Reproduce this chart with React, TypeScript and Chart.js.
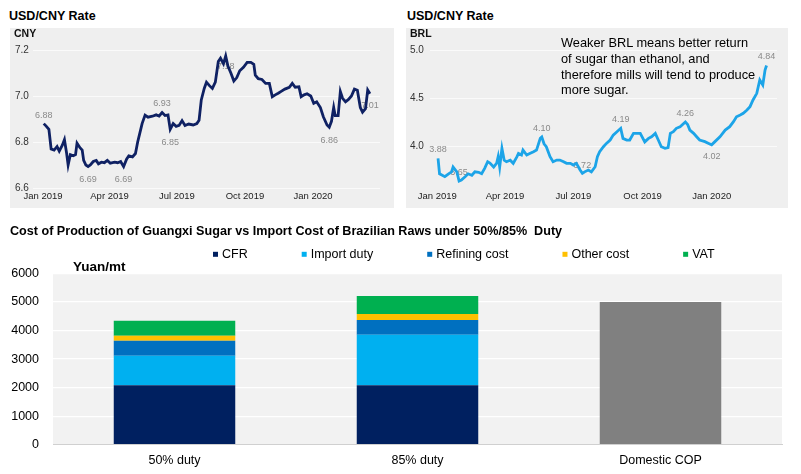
import React, { useEffect, useRef } from "react";
import { Chart, registerables } from "chart.js";

Chart.register(...registerables);

const FONT = '"Liberation Sans", Arial, Helvetica, sans-serif';

// ---------- Top panels: exchange rates ----------
const quarterTickDates = ["2019-01-01", "2019-04-01", "2019-07-01", "2019-10-01", "2020-01-01"];
const quarterTickLabels = ["Jan 2019", "Apr 2019", "Jul 2019", "Oct 2019", "Jan 2020"];

const cnyDates = [
  "2019-01-02", "2019-01-05", "2019-01-09", "2019-01-12", "2019-01-16", "2019-01-20", "2019-01-23", "2019-01-27",
  "2019-01-30", "2019-02-02", "2019-02-04", "2019-02-07", "2019-02-11", "2019-02-14", "2019-02-16", "2019-02-20",
  "2019-02-23", "2019-02-25", "2019-02-28", "2019-03-03", "2019-03-06", "2019-03-10", "2019-03-14", "2019-03-17",
  "2019-03-21", "2019-03-25", "2019-03-29", "2019-04-02", "2019-04-08", "2019-04-12", "2019-04-16", "2019-04-20",
  "2019-04-24", "2019-04-27", "2019-05-02", "2019-05-06", "2019-05-09", "2019-05-12", "2019-05-15", "2019-05-19",
  "2019-05-23", "2019-05-29", "2019-06-03", "2019-06-07", "2019-06-11", "2019-06-15", "2019-06-19", "2019-06-22",
  "2019-06-26", "2019-06-30", "2019-07-04", "2019-07-08", "2019-07-12", "2019-07-17", "2019-07-23", "2019-07-28",
  "2019-07-31", "2019-08-03", "2019-08-07", "2019-08-10", "2019-08-14", "2019-08-18", "2019-08-22", "2019-08-26",
  "2019-08-29", "2019-09-02", "2019-09-05", "2019-09-08", "2019-09-12", "2019-09-16", "2019-09-20", "2019-09-24",
  "2019-09-29", "2019-10-04", "2019-10-09", "2019-10-13", "2019-10-15", "2019-10-19", "2019-10-24", "2019-10-29",
  "2019-11-03", "2019-11-07", "2019-11-11", "2019-11-15", "2019-11-19", "2019-11-24", "2019-11-30", "2019-12-04",
  "2019-12-08", "2019-12-13", "2019-12-16", "2019-12-20", "2019-12-24", "2019-12-29", "2020-01-02", "2020-01-06",
  "2020-01-11", "2020-01-15", "2020-01-20", "2020-01-23", "2020-01-26", "2020-01-29", "2020-01-31", "2020-02-04",
  "2020-02-07", "2020-02-10", "2020-02-14", "2020-02-18", "2020-02-22", "2020-02-26", "2020-03-01", "2020-03-05",
  "2020-03-08", "2020-03-12", "2020-03-15", "2020-03-18",
];
const cnyValues = [
  6.88, 6.87, 6.855, 6.77, 6.765, 6.78, 6.76, 6.785,
  6.81, 6.75, 6.70, 6.745, 6.74, 6.745, 6.795, 6.775,
  6.765, 6.72, 6.70, 6.693, 6.70, 6.715, 6.72, 6.705,
  6.712, 6.71, 6.72, 6.708, 6.712, 6.71, 6.715, 6.693,
  6.725, 6.74, 6.735, 6.75, 6.80, 6.84, 6.88, 6.917,
  6.908, 6.912, 6.918, 6.913, 6.928, 6.915, 6.918, 6.855,
  6.88, 6.868, 6.872, 6.893, 6.872, 6.878, 6.874, 6.88,
  6.895, 6.983, 7.033, 7.06, 7.045, 7.033, 7.06, 7.15,
  7.164, 7.14, 7.174, 7.13, 7.10, 7.065, 7.08, 7.11,
  7.125, 7.146, 7.146, 7.138, 7.091, 7.075, 7.072, 7.055,
  7.055, 6.997, 7.005, 7.012, 7.02, 7.03, 7.038, 7.055,
  7.038, 7.04, 6.997, 7.005, 7.01, 7.0, 6.968, 6.975,
  6.95, 6.91, 6.874, 6.864, 6.89, 6.95, 6.915, 6.915,
  7.019, 6.99, 6.975, 6.985, 7.0, 7.03, 7.025, 6.95,
  6.93, 6.945, 7.026, 7.01,
];
const cnyNotes = [
  { date: "2019-01-02", text: "6.88", pos: "above" },
  { date: "2019-03-03", text: "6.69", pos: "below" },
  { date: "2019-04-20", text: "6.69", pos: "below" },
  { date: "2019-06-11", text: "6.93", pos: "above" },
  { date: "2019-06-22", text: "6.85", pos: "below" },
  { date: "2019-09-05", text: "7.18", pos: "below" },
  { date: "2020-01-23", text: "6.86", pos: "below" },
  { date: "2020-03-18", text: "7.01", pos: "below" },
];
const cnyYTicks = [6.6, 6.8, 7.0, 7.2];

const brlDates = [
  "2019-01-02", "2019-01-04", "2019-01-07", "2019-01-11", "2019-01-16", "2019-01-20", "2019-01-22", "2019-01-27",
  "2019-01-30", "2019-02-02", "2019-02-07", "2019-02-11", "2019-02-16", "2019-02-20", "2019-02-25", "2019-03-01",
  "2019-03-05", "2019-03-09", "2019-03-12", "2019-03-17", "2019-03-21", "2019-03-23", "2019-03-25", "2019-03-28",
  "2019-03-31", "2019-04-03", "2019-04-08", "2019-04-12", "2019-04-17", "2019-04-19", "2019-04-23", "2019-04-25",
  "2019-04-30", "2019-05-04", "2019-05-09", "2019-05-13", "2019-05-18", "2019-05-20", "2019-05-23", "2019-05-26",
  "2019-05-31", "2019-06-04", "2019-06-09", "2019-06-13", "2019-06-18", "2019-06-22", "2019-06-27", "2019-07-01",
  "2019-07-05", "2019-07-10", "2019-07-13", "2019-07-16", "2019-07-21", "2019-07-25", "2019-07-30", "2019-08-02",
  "2019-08-05", "2019-08-10", "2019-08-14", "2019-08-19", "2019-08-23", "2019-08-28", "2019-09-02", "2019-09-05",
  "2019-09-10", "2019-09-14", "2019-09-19", "2019-09-23", "2019-09-28", "2019-10-04", "2019-10-09", "2019-10-13",
  "2019-10-18", "2019-10-22", "2019-10-26", "2019-10-31", "2019-11-04", "2019-11-07", "2019-11-11", "2019-11-15",
  "2019-11-20", "2019-11-27", "2019-11-30", "2019-12-03", "2019-12-08", "2019-12-12", "2019-12-16", "2019-12-23",
  "2019-12-28", "2020-01-01", "2020-01-05", "2020-01-12", "2020-01-19", "2020-01-25", "2020-01-30", "2020-02-03",
  "2020-02-08", "2020-02-12", "2020-02-17", "2020-02-21", "2020-02-25", "2020-03-01", "2020-03-05", "2020-03-09",
  "2020-03-12", "2020-03-14",
];
const brlValues = [
  3.88, 3.72, 3.707, 3.69, 3.72, 3.74, 3.79, 3.74,
  3.645, 3.655, 3.69, 3.72, 3.705, 3.74, 3.735, 3.72,
  3.776, 3.845, 3.83, 3.79, 3.83, 3.897, 3.79, 3.983,
  3.86, 3.845, 3.86, 3.828, 3.897, 3.93, 3.914, 3.965,
  3.914, 3.93, 3.948, 3.965, 4.086, 4.10, 4.03, 4.0,
  3.897, 3.845, 3.862, 3.862, 3.845, 3.828, 3.828, 3.81,
  3.828, 3.759, 3.724, 3.74, 3.759, 3.74, 3.793, 3.897,
  3.948, 4.0, 4.034, 4.069, 4.12, 4.155, 4.19, 4.086,
  4.069, 4.069, 4.138, 4.138, 4.138, 4.05, 4.086, 4.103,
  4.138, 4.069, 4.0, 3.983, 3.99, 4.138, 4.155, 4.19,
  4.207, 4.255, 4.23, 4.172, 4.138, 4.103, 4.069, 4.052,
  4.034, 4.02, 4.05, 4.103, 4.172, 4.207, 4.259, 4.31,
  4.328, 4.345, 4.379, 4.414, 4.483, 4.552, 4.69, 4.638,
  4.793, 4.84,
];
const brlNotes = [
  { date: "2019-01-02", text: "3.88", pos: "above" },
  { date: "2019-01-30", text: "3.65", pos: "above" },
  { date: "2019-05-20", text: "4.10", pos: "above" },
  { date: "2019-07-13", text: "3.72", pos: "above" },
  { date: "2019-09-02", text: "4.19", pos: "above" },
  { date: "2019-11-27", text: "4.26", pos: "above" },
  { date: "2020-01-01", text: "4.02", pos: "below" },
  { date: "2020-03-14", text: "4.84", pos: "above" },
];
const brlYTicks = [4.0, 4.5, 5.0];

const brlCommentLines = [
  "Weaker BRL means better return",
  "of sugar than ethanol, and",
  "therefore mills will tend to produce",
  "more sugar.",
];

// ---------- Bottom panel: cost stack ----------
const barCategories = ["50% duty", "85% duty", "Domestic COP"];
const cfrValues = [2080, 2080, null];
const importDutyValues = [1040, 1770, null];
const refiningValues = [520, 520, null];
const otherCostValues = [180, 205, null];
const vatValues = [520, 630, null];
const domesticCopValues = [null, null, 5000];
const legendSeries = ["CFR", "Import duty", "Refining cost", "Other cost", "VAT"];

const BASE = Date.parse("2019-01-01T00:00:00Z");
const dayOf = (s: string) => (Date.parse(s + "T00:00:00Z") - BASE) / 86400000;

function notesPlugin(notes: { date: string; text: string; pos: string }[]) {
  return {
    id: "pointNotes",
    beforeDatasetsDraw(chart: any) {
      const { ctx, scales } = chart;
      ctx.save();
      ctx.font = `9px ${FONT}`;
      ctx.fillStyle = "#8a8a8a";
      ctx.textAlign = "center";
      ctx.textBaseline = "middle";
      notes.forEach((n) => {
        const px = scales.x.getPixelForValue(dayOf(n.date));
        const py = scales.y.getPixelForValue(parseFloat(n.text)) + (n.pos === "above" ? -8.5 : 12);
        ctx.fillText(n.text, px, py);
      });
      ctx.restore();
    },
  };
}

function makeLineChart(
  canvas: HTMLCanvasElement,
  dates: string[],
  values: number[],
  notes: { date: string; text: string; pos: string }[],
  cfg: { color: string; yMin: number; yMax: number; yTicks: number[]; xMin: number; xMax: number; yWidth: number; padLeft: number; padRight: number }
) {
  return new Chart(canvas, {
    type: "line",
    data: {
      datasets: [
        {
          data: dates.map((d, i) => ({ x: dayOf(d), y: values[i] })),
          borderColor: cfg.color,
          borderWidth: 2.8,
          pointRadius: 0,
          tension: 0,
          fill: false,
        },
      ],
    },
    options: {
      responsive: false,
      animation: false,
      events: [],
      layout: { padding: { left: cfg.padLeft, right: cfg.padRight, top: 22, bottom: 0 } },
      plugins: { legend: { display: false }, tooltip: { enabled: false } },
      scales: {
        x: {
          type: "linear",
          min: cfg.xMin,
          max: cfg.xMax,
          grid: { display: false, drawTicks: false },
          border: { display: false },
          afterBuildTicks: (s: any) => {
            s.ticks = quarterTickDates.map((d) => ({ value: dayOf(d) }));
          },
          afterFit: (s: any) => {
            s.height = 20;
          },
          ticks: {
            autoSkip: false,
            maxRotation: 0,
            padding: 3,
            color: "#222",
            font: { family: FONT, size: 9.5 },
            callback: (_v: any, i: number) => quarterTickLabels[i],
          },
        },
        y: {
          min: cfg.yMin,
          max: cfg.yMax,
          grid: { color: "#fafafa", lineWidth: 1, drawTicks: false },
          border: { display: false },
          afterBuildTicks: (s: any) => {
            s.ticks = cfg.yTicks.map((v) => ({ value: v }));
          },
          afterFit: (s: any) => {
            s.width = cfg.yWidth;
          },
          ticks: {
            crossAlign: "far",
            color: "#333",
            font: { family: FONT, size: 10 },
            callback: (v: any) => Number(v).toFixed(1),
          },
        },
      },
    },
    plugins: [notesPlugin(notes)],
  } as any);
}

const plotBgPlugin = {
  id: "plotBg",
  beforeDraw(chart: any) {
    const { ctx, chartArea } = chart;
    ctx.save();
    ctx.fillStyle = "#f2f2f2";
    ctx.fillRect(chartArea.left, chartArea.top, chartArea.right - chartArea.left, chartArea.bottom - chartArea.top);
    ctx.restore();
  },
};

const barLegendPlugin = {
  id: "barLegend",
  afterDraw(chart: any) {
    const { ctx } = chart;
    ctx.save();
    ctx.font = `12.5px ${FONT}`;
    ctx.textBaseline = "middle";
    ctx.textAlign = "left";
    let x = 213;
    const y = 39.3;
    chart.data.datasets.forEach((ds: any) => {
      if (!legendSeries.includes(ds.label)) return;
      ctx.fillStyle = ds.backgroundColor;
      ctx.fillRect(x, y - 2.5, 5, 5);
      ctx.fillStyle = "#000";
      ctx.fillText(ds.label, x + 9, y);
      x += 9 + ctx.measureText(ds.label).width + 54;
    });
    ctx.restore();
  },
};

const unitPlugin = {
  id: "unitLabel",
  afterDraw(chart: any) {
    const { ctx, chartArea } = chart;
    ctx.save();
    ctx.font = `bold 13.5px ${FONT}`;
    ctx.fillStyle = "#000";
    ctx.textBaseline = "middle";
    ctx.textAlign = "left";
    ctx.fillText("Yuan/mt", chartArea.left + 20, chartArea.top - 6);
    ctx.restore();
  },
};

export default function App() {
  const cnyRef = useRef<HTMLCanvasElement>(null);
  const brlRef = useRef<HTMLCanvasElement>(null);
  const barRef = useRef<HTMLCanvasElement>(null);

  useEffect(() => {
    const charts: Chart[] = [];
    if (cnyRef.current) {
      charts.push(
        makeLineChart(cnyRef.current, cnyDates, cnyValues, cnyNotes, {
          color: "#0f2163",
          yMin: 6.6,
          yMax: 7.2,
          yTicks: cnyYTicks,
          xMin: -13.5,
          xMax: 455.6,
          yWidth: 18,
          padLeft: 5,
          padRight: 14,
        })
      );
    }
    if (brlRef.current) {
      charts.push(
        makeLineChart(brlRef.current, brlDates, brlValues, brlNotes, {
          color: "#1ca4e8",
          yMin: 3.573,
          yMax: 5.0,
          yTicks: brlYTicks,
          xMin: -9.7,
          xMax: 451.9,
          yWidth: 20,
          padLeft: 4,
          padRight: 11,
        })
      );
    }
    if (barRef.current) {
      charts.push(
        new Chart(barRef.current, {
          type: "bar",
          data: {
            labels: barCategories,
            datasets: [
              { label: "CFR", data: cfrValues, backgroundColor: "#002060" },
              { label: "Import duty", data: importDutyValues, backgroundColor: "#00b0f0" },
              { label: "Refining cost", data: refiningValues, backgroundColor: "#0070c0" },
              { label: "Other cost", data: otherCostValues, backgroundColor: "#ffc000" },
              { label: "VAT", data: vatValues, backgroundColor: "#00b050" },
              { label: "Domestic COP", data: domesticCopValues, backgroundColor: "#808080" },
            ],
          },
          options: {
            responsive: false,
            animation: false,
            events: [],
            layout: { padding: { left: 10, right: 19, top: 0, bottom: 0 } },
            datasets: { bar: { categoryPercentage: 1, barPercentage: 0.5 } },
            plugins: {
              legend: { display: false },
              tooltip: { enabled: false },
              title: {
                display: true,
                text: "Cost of Production of Guangxi Sugar vs Import Cost of Brazilian Raws under 50%/85%  Duty",
                align: "start",
                color: "#000",
                font: { family: FONT, size: 12.6, weight: "bold" },
                padding: { top: 8.5, bottom: 34.8 },
              },
            },
            scales: {
              x: {
                stacked: true,
                grid: { display: false, drawTicks: false },
                border: { color: "#d0d0d0", width: 1 },
                afterFit: (s: any) => {
                  s.height = 29.3;
                },
                ticks: { color: "#000", padding: 8, font: { family: FONT, size: 12.5 } },
              },
              y: {
                stacked: true,
                min: 0,
                max: 6000,
                grid: { color: "#ffffff", lineWidth: 1.2, drawTicks: false },
                border: { display: false },
                afterFit: (s: any) => {
                  s.width = 43;
                },
                ticks: {
                  stepSize: 1000,
                  color: "#000",
                  padding: 14,
                  font: { family: FONT, size: 12.5 },
                  callback: (v: any) => String(v),
                },
              },
            },
          },
          plugins: [plotBgPlugin, barLegendPlugin, unitPlugin],
        } as any)
      );
    }
    return () => charts.forEach((c) => c.destroy());
  }, []);

  const title: React.CSSProperties = {
    position: "absolute",
    top: 8,
    fontWeight: "bold",
    fontSize: 12.5,
    lineHeight: "16px",
    color: "#000",
    whiteSpace: "nowrap",
  };
  const unit: React.CSSProperties = {
    position: "absolute",
    top: 27,
    fontWeight: "bold",
    fontSize: 10.5,
    lineHeight: "12px",
    color: "#111",
  };

  return (
    <div
      style={{
        position: "fixed",
        left: 0,
        top: 0,
        width: 801,
        height: 474,
        background: "#fff",
        overflow: "hidden",
        fontFamily: FONT,
      }}
    >
      <div style={{ ...title, left: 9 }}>USD/CNY Rate</div>
      <div style={{ ...title, left: 407 }}>USD/CNY Rate</div>

      <canvas
        ref={cnyRef}
        width={384}
        height={180}
        style={{ position: "absolute", left: 10, top: 28, width: 384, height: 180, background: "#efefef", display: "block" }}
      />
      <div style={{ ...unit, left: 14 }}>CNY</div>

      <canvas
        ref={brlRef}
        width={382}
        height={180}
        style={{ position: "absolute", left: 406, top: 28, width: 382, height: 180, background: "#efefef", display: "block" }}
      />
      <div style={{ ...unit, left: 410 }}>BRL</div>
      <div
        style={{
          position: "absolute",
          left: 561,
          top: 35,
          fontSize: 12.8,
          lineHeight: "15.8px",
          color: "#000",
          whiteSpace: "nowrap",
        }}
      >
        {brlCommentLines.map((l, i) => (
          <div key={i}>{l}</div>
        ))}
      </div>

      <canvas
        ref={barRef}
        width={801}
        height={259}
        style={{ position: "absolute", left: 0, top: 215, width: 801, height: 259, display: "block" }}
      />
    </div>
  );
}
